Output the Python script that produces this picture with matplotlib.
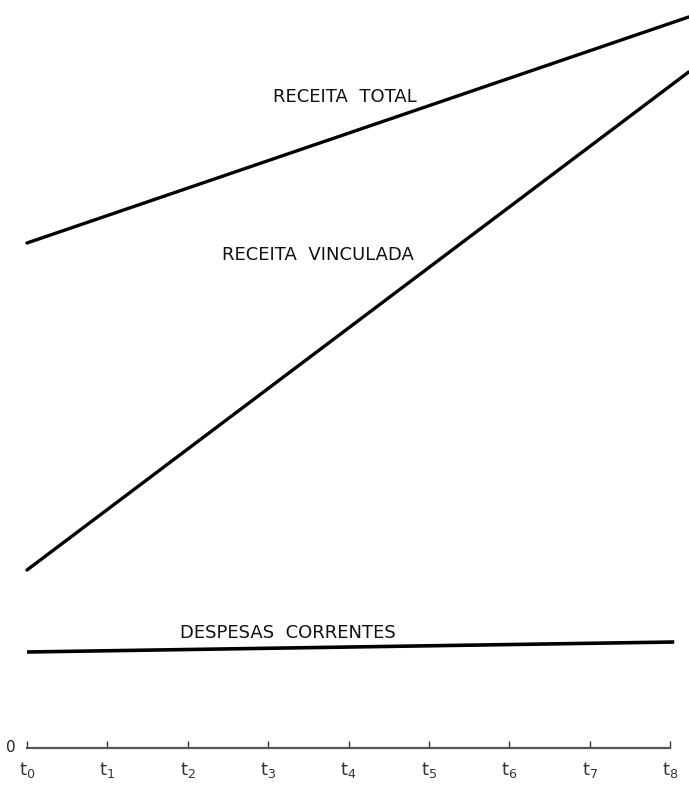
import matplotlib.pyplot as plt
import numpy as np

# time points t0..t8 and where the drawn lines start/stop
periods = np.arange(9)
tick_labels = [rf"$\mathregular{{t_{i}}}$" for i in periods]
line_x = [0.0, 8.23]

# values (arbitrary units, 0 = axis)
receita_total = [505, 731]
receita_vinculada = [178, 676]
despesas_x = [0.0, 8.05]
despesas_correntes = [96, 106]

fig = plt.figure(figsize=(6.89, 7.90), dpi=100)
ax = fig.add_axes([0, 0, 1, 1])
ax.set_xlim(-0.336, 8.234)
ax.set_ylim(-42, 748)

ax.plot(line_x, receita_total, color='black', lw=2.4, solid_capstyle='round')
ax.plot(line_x, receita_vinculada, color='black', lw=2.4, solid_capstyle='round')
ax.plot(despesas_x, despesas_correntes, color='black', lw=2.6, solid_capstyle='butt')

txt = dict(fontsize=13, color='#111111', family='DejaVu Sans')
ax.text(3.95, 651, "RECEITA  TOTAL", ha='center', va='center', **txt)
ax.text(3.62, 493, "RECEITA  VINCULADA", ha='center', va='center', **txt)
ax.text(3.25, 115, "DESPESAS  CORRENTES", ha='center', va='center', **txt)

# x axis
for s in ['left', 'right', 'top']:
    ax.spines[s].set_visible(False)
ax.spines['bottom'].set_position(('data', 0))
ax.spines['bottom'].set_bounds(0, 8)
ax.spines['bottom'].set_color('#555555')
ax.spines['bottom'].set_linewidth(1.6)
ax.set_xticks(periods)
ax.set_xticklabels(tick_labels, fontsize=13)
ax.tick_params(axis='x', direction='in', length=5, width=1, colors='#333333', pad=9)
ax.set_yticks([])
ax.text(-0.2, 0, "0", ha='center', va='center', fontsize=11, color='#222222')

fig.savefig('out.png', dpi=100)
